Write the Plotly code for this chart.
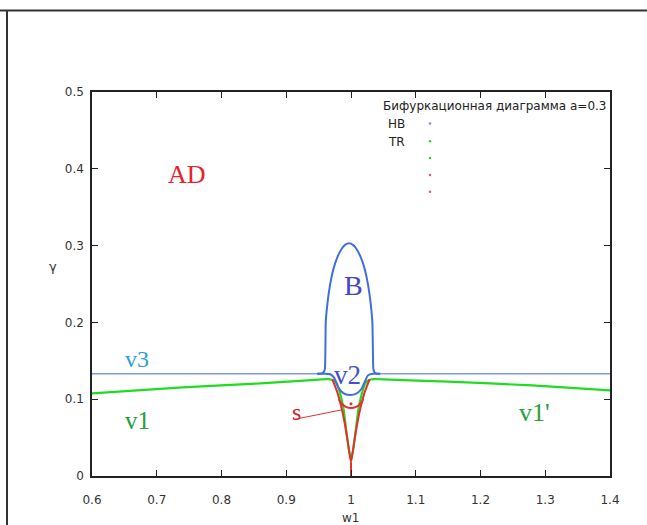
import plotly.graph_objects as go

# ---------------- data ----------------
# v3: upper blue line (thin) outside the bubble
v3_left_w = [0.6, 0.95]
v3_left_g = [0.133, 0.133]
v3_right_w = [1.042, 1.4]
v3_right_g = [0.133, 0.133]

# B: blue bubble (from left foot, over the top, to right foot)
bubble_w = [0.948, 0.955, 0.958, 0.9597, 0.9603, 0.9606, 0.961, 0.963, 0.966, 0.969, 0.973,
            0.979, 0.985, 0.991, 0.997, 1.003, 1.009, 1.015, 1.021, 1.025, 1.028, 1.031,
            1.033, 1.0336, 1.034, 1.0345, 1.036, 1.039, 1.045]
bubble_g = [0.133, 0.1335, 0.1355, 0.140, 0.155, 0.175, 0.200, 0.220, 0.240, 0.255, 0.270,
            0.285, 0.295, 0.301, 0.303, 0.301, 0.295, 0.285, 0.270, 0.255, 0.240, 0.220,
            0.200, 0.175, 0.155, 0.140, 0.1355, 0.1335, 0.133]

# v2: blue dip between the bubble feet
dip_w = [0.948, 0.958, 0.968, 0.974, 0.980, 0.988, 0.998, 1.009, 1.0165, 1.022, 1.026, 1.034, 1.045]
dip_g = [0.133, 0.133, 0.1325, 0.128, 0.116, 0.108, 0.1055, 0.1076, 0.114, 0.124, 0.131, 0.133, 0.133]

# v1 / v1': green curves
green_left_w = [0.6, 0.74, 0.86, 0.95, 0.965, 0.972, 0.978, 0.983, 0.988, 0.992, 0.996, 1.0]
green_left_g = [0.1077, 0.1155, 0.1205, 0.1255, 0.1262, 0.125, 0.1207, 0.108, 0.090, 0.064, 0.038, 0.021]
green_right_w = [1.0, 1.004, 1.008, 1.012, 1.017, 1.022, 1.028, 1.035, 1.05, 1.15, 1.28, 1.4]
green_right_g = [0.021, 0.038, 0.064, 0.090, 0.108, 0.1207, 0.125, 0.1262, 0.1258, 0.1228, 0.118, 0.1115]

# red V (cusp) and its tail to the axis
red_v_w = [0.971, 0.975, 0.980, 0.985, 0.990, 0.995, 1.0, 1.005, 1.010, 1.015, 1.020, 1.025, 1.029]
red_v_g = [0.126, 0.118, 0.106, 0.090, 0.070, 0.045, 0.018, 0.045, 0.070, 0.090, 0.106, 0.118, 0.126]
red_tail_w = [1.0, 1.0]
red_tail_g = [0.018, 0.0]

# s: red arc
s_arc_w = [0.981, 0.986, 0.992, 1.0, 1.008, 1.014, 1.019]
s_arc_g = [0.100, 0.094, 0.090, 0.0885, 0.090, 0.094, 0.100]
s_dot_w = [1.0]
s_dot_g = [0.094]
s_pointer_w = [0.913, 0.985]
s_pointer_g = [0.0738, 0.086]

# legend sample dots
legend_dot_w = [1.122, 1.122, 1.122, 1.122, 1.122]
legend_dot_g = [0.459, 0.436, 0.414, 0.392, 0.370]
legend_dot_c = ["#8a8ad0", "#33cc33", "#33cc33", "#e06060", "#e06060"]

x_ticks = [0.6, 0.7, 0.8, 0.9, 1.0, 1.1, 1.2, 1.3, 1.4]
x_ticktext = ["0.6", "0.7", "0.8", "0.9", "1", "1.1", "1.2", "1.3", "1.4"]
y_ticks = [0, 0.1, 0.2, 0.3, 0.4, 0.5]
y_ticktext = ["0", "0.1", "0.2", "0.3", "0.4", "0.5"]

legend_title = "Бифуркационная диаграмма a=0.3"
legend_items = ["HB", "TR"]

# ---------------- figure ----------------
BLUE = "#3f6fdc"
LBLUE = "#7f9ae6"
GREEN = "#1fdc1f"
RED = "#e2302a"

fig = go.Figure()

def line(xs, ys, color, width):
    fig.add_trace(go.Scatter(x=xs, y=ys, mode="lines", line=dict(color=color, width=width, shape="spline", smoothing=0.6),
                             showlegend=False, hoverinfo="skip"))

line(v3_left_w, v3_left_g, LBLUE, 1.5)
line(v3_right_w, v3_right_g, LBLUE, 1.5)
line(green_left_w, green_left_g, GREEN, 2.2)
line(green_right_w, green_right_g, GREEN, 2.2)
line(red_v_w, red_v_g, RED, 2)
line(red_tail_w, red_tail_g, RED, 2)
line(s_arc_w, s_arc_g, RED, 2)
line(s_pointer_w, s_pointer_g, RED, 1)
line(bubble_w, bubble_g, BLUE, 2)
line(dip_w, dip_g, BLUE, 2)

fig.add_trace(go.Scatter(x=s_dot_w, y=s_dot_g, mode="markers",
                         marker=dict(color=RED, size=3), showlegend=False, hoverinfo="skip"))
fig.add_trace(go.Scatter(x=legend_dot_w, y=legend_dot_g, mode="markers",
                         marker=dict(color=legend_dot_c, size=2.5), showlegend=False, hoverinfo="skip"))

L, R, T, B = 92, 37, 92, 49
PW, PH = 647 - L - R, 525 - T - B

def px(xp):
    return (xp - L) / PW

def py(yp):
    return (525 - B - yp) / PH

annotations = []
def label(text, w, g, color, size, family="Liberation Serif"):
    annotations.append(dict(text=text, x=w, y=g, xref="x", yref="y", showarrow=False,
                            font=dict(family=family, size=size, color=color),
                            xanchor="center", yanchor="middle"))

label("AD", 0.746, 0.393, "#e8202a", 26)
label("B", 1.0036, 0.2487, "#4545c4", 28)
label("v3", 0.670, 0.152, "#2aa0dc", 24)
label("v1", 0.670, 0.0729, "#22a03a", 25)
label("v2", 0.994, 0.1315, "#4550c4", 27)
label("s", 0.916, 0.0837, "#d42020", 24)
label("v1'", 1.283, 0.0823, "#22a03a", 26)

SANS = "DejaVu Sans"
annotations.append(dict(text=legend_title, x=px(381), y=py(106), xref="paper", yref="paper",
                        showarrow=False, xanchor="left", yanchor="middle",
                        font=dict(family=SANS, size=12, color="#222")))
for i, t in enumerate(legend_items):
    annotations.append(dict(text=t, x=px(386), y=py(124 + 18 * i), xref="paper", yref="paper",
                            showarrow=False, xanchor="left", yanchor="middle",
                            font=dict(family=SANS, size=12, color="#222")))
annotations.append(dict(text="w1", x=px(350), y=py(518), xref="paper", yref="paper",
                        showarrow=False, xanchor="center", yanchor="middle",
                        font=dict(family=SANS, size=12, color="#333")))
annotations.append(dict(text="γ", x=px(53), y=py(266), xref="paper", yref="paper",
                        showarrow=False, xanchor="center", yanchor="middle",
                        font=dict(family=SANS, size=13, color="#333")))

shapes = [
    dict(type="line", xref="paper", yref="paper", x0=px(0), x1=px(647), y0=py(10.5), y1=py(10.5),
         line=dict(color="#333", width=2)),
    dict(type="line", xref="paper", yref="paper", x0=px(7), x1=px(7), y0=py(10.5), y1=py(525),
         line=dict(color="#333", width=2)),
]

axis_common = dict(showgrid=False, zeroline=False, showline=True, linecolor="#222", linewidth=1.5,
                   mirror="ticks", ticks="inside", ticklen=6, tickcolor="#222", tickwidth=1,
                   tickfont=dict(family=SANS, size=12, color="#333"))

fig.update_layout(
    width=647, height=525,
    margin=dict(l=L, r=R, t=T, b=B, autoexpand=False),
    paper_bgcolor="white", plot_bgcolor="white",
    xaxis=dict(range=[0.6, 1.4], tickvals=x_ticks, ticktext=x_ticktext, ticklabelstandoff=12, **axis_common),
    yaxis=dict(range=[0, 0.5], tickvals=y_ticks, ticktext=y_ticktext, ticklabelstandoff=4, **axis_common),
    annotations=annotations,
    shapes=shapes,
    showlegend=False,
)

fig.write_html("out.html", config={"displayModeBar": False},
               post_script="document.body.style.margin='0';document.body.style.padding='0';document.body.style.overflow='hidden';")
